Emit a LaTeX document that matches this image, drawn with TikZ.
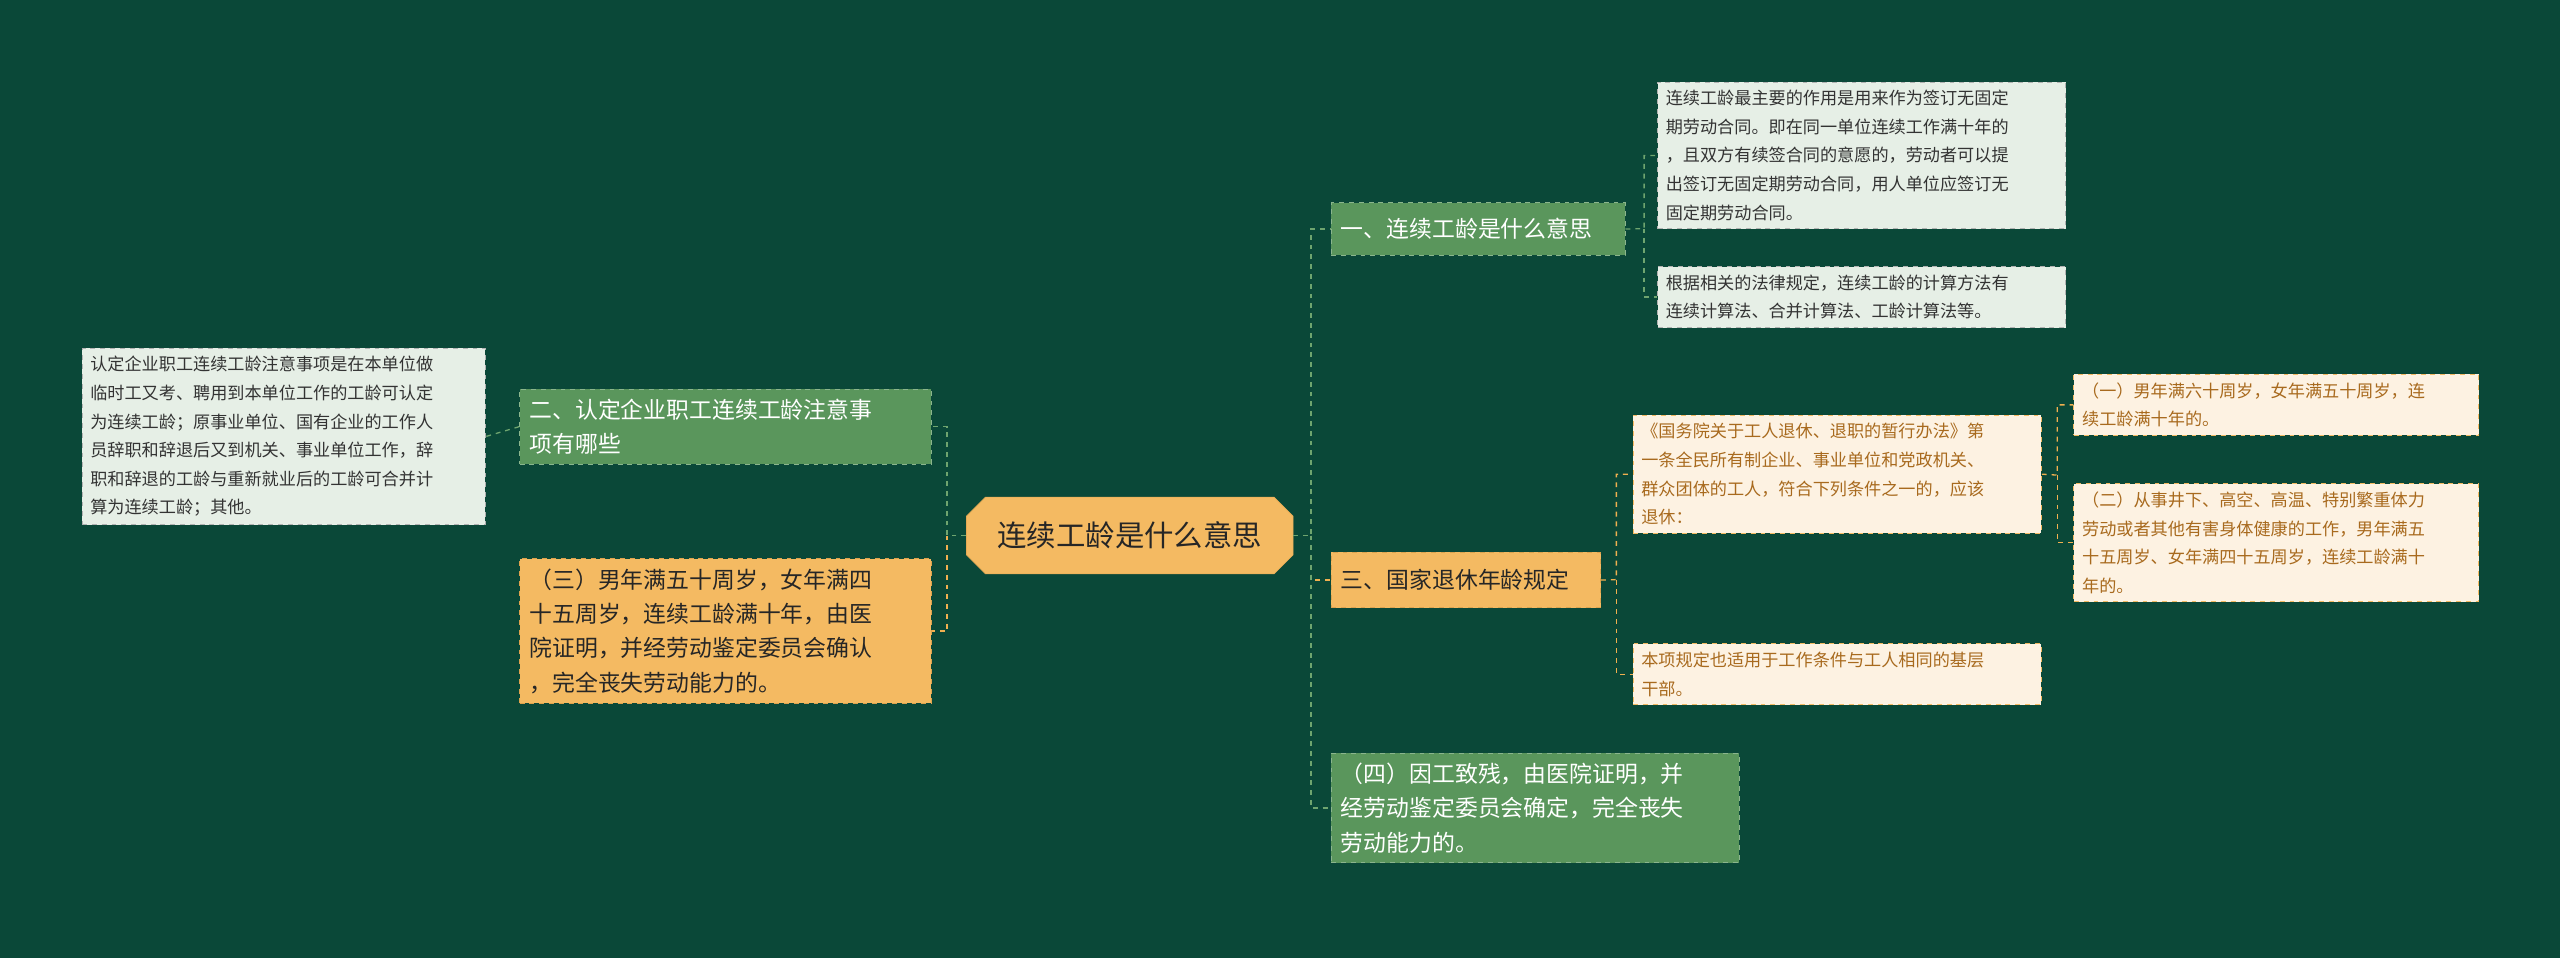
\documentclass[tikz,border=0pt]{standalone}
\usepackage{fontspec}
\setmainfont{Noto Sans CJK SC}
\usetikzlibrary{shapes.geometric,shapes.misc}
\definecolor{bg}{HTML}{0A4838}
\definecolor{gbox}{HTML}{5A965C}
\definecolor{obox}{HTML}{F4BA62}
\definecolor{lgbox}{HTML}{E6EFE6}
\definecolor{cbox}{HTML}{FDF2E2}
\definecolor{brown}{HTML}{A86A1E}
\definecolor{lineg}{HTML}{6FA56F}
\definecolor{lineo}{HTML}{F0B050}
\begin{document}
\begin{tikzpicture}[x=1pt,y=-1pt,
 base/.style={anchor=north west,align=left,inner sep=6pt,draw,dashed,line width=0.6pt},
 gsty/.style={base,fill=gbox,draw=gbox!70!white,text=white,font=\fontsize{14}{21}\selectfont},
 osty/.style={base,fill=obox,draw=obox!70!brown,text=black!85,font=\fontsize{14}{21}\selectfont},
 lgs/.style={base,fill=lgbox,draw=gray!60,text=black!80,font=\fontsize{10.5}{17.5}\selectfont,inner sep=5pt},
 cs/.style={base,fill=cbox,draw=obox,text=brown,font=\fontsize{10.5}{17.5}\selectfont,inner sep=5pt},
 lk/.style={dashed,line width=0.8pt,draw=lineg},
 lko/.style={dashed,line width=0.8pt,draw=lineo}]
\fill[bg] (0,0) rectangle (1568,587);
\useasboundingbox (0,0) rectangle (1568,587);
\node[chamfered rectangle,chamfered rectangle xsep=8pt,chamfered rectangle corners={north west,south west,north east,south east},fill=obox,draw=obox!80!brown,minimum width=200pt,minimum height=47pt,font=\fontsize{18}{22}\selectfont,text=black!85] (c) at (692,328) {连续工龄是什么意思};
\node[gsty,text width=168pt,minimum height=32pt] (n1) at (815,124) {一、连续工龄是什么意思};
\node[lgs,text width=240pt] (n1a) at (1015,50) {连续工龄最主要的作用是用来作为签订无固定\\期劳动合同。即在同一单位连续工作满十年的\\，且双方有续签合同的意愿的，劳动者可以提\\出签订无固定期劳动合同，用人单位应签订无\\固定期劳动合同。};
\node[lgs,text width=240pt] (n1b) at (1015,163) {根据相关的法律规定，连续工龄的计算方法有\\连续计算法、合并计算法、工龄计算法等。};
\node[gsty,text width=240pt] (n2) at (318,238) {二、认定企业职工连续工龄注意事\\项有哪些};
\node[lgs,text width=237pt] (n2a) at (50,213) {认定企业职工连续工龄注意事项是在本单位做\\临时工又考、聘用到本单位工作的工龄可认定\\为连续工龄；原事业单位、国有企业的工作人\\员辞职和辞退后又到机关、事业单位工作，辞\\职和辞退的工龄与重新就业后的工龄可合并计\\算为连续工龄；其他。};
\node[osty,text width=240pt] (n3) at (318,342) {（三）男年满五十周岁，女年满四\\十五周岁，连续工龄满十年，由医\\院证明，并经劳动鉴定委员会确认\\，完全丧失劳动能力的。};
\node[osty,text width=153pt,minimum height=34pt] (n4) at (815,338) {三、国家退休年龄规定};
\node[cs,text width=240pt] (n4a) at (1000,254) {《国务院关于工人退休、退职的暂行办法》第\\一条全民所有制企业、事业单位和党政机关、\\群众团体的工人，符合下列条件之一的，应该\\退休：};
\node[cs,text width=240pt] (n4b) at (1000,394) {本项规定也适用于工作条件与工人相同的基层\\干部。};
\node[cs,text width=238pt] (n4a1) at (1270,229) {（一）男年满六十周岁，女年满五十周岁，连\\续工龄满十年的。};
\node[cs,text width=238pt] (n4a2) at (1270,296) {（二）从事井下、高空、高温、特别繁重体力\\劳动或者其他有害身体健康的工作，男年满五\\十五周岁、女年满四十五周岁，连续工龄满十\\年的。};
\node[gsty,text width=238pt] (n5) at (815,461) {（四）因工致残，由医院证明，并\\经劳动鉴定委员会确定，完全丧失\\劳动能力的。};
% connectors
\draw[lk] (c.west) -- (580,328) |- (n2.east);
\draw[lko] (580,328) |- (n3.east);
\draw[lk] (c.east) -- (803,328) |- (n1.west);
\draw[lko] (803,328) |- (n4.west);
\draw[lk] (803,328) |- (n5.west);
\draw[lk] (n1.east) -- (1007,140) |- (n1a.west);
\draw[lk] (1007,140) |- (n1b.west);
\draw[lk] (n2.west) -- (n2a.east);
\draw[lko] (n4.east) -- (990,355) |- (n4a.west);
\draw[lko] (990,355) |- (n4b.west);
\draw[lko] (n4a.east) -- (1260,291) |- (n4a1.west);
\draw[lko] (1260,291) |- (n4a2.west);
\end{tikzpicture}
\end{document}
